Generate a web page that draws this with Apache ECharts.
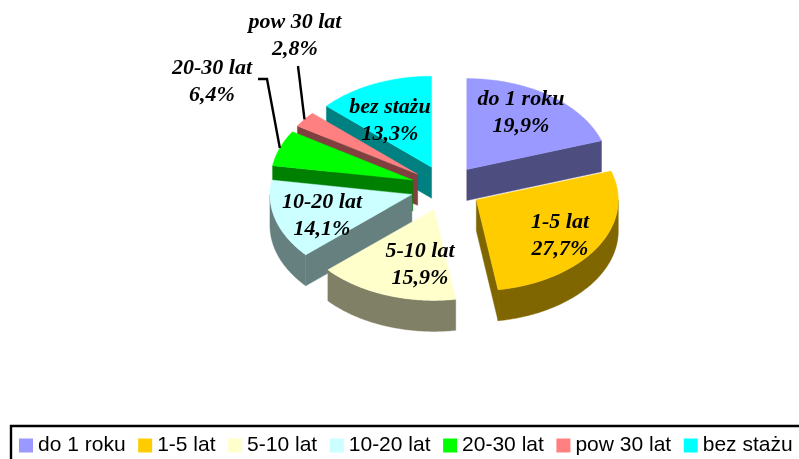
<!DOCTYPE html>
<html><head><meta charset="utf-8">
<style>html,body{margin:0;padding:0;background:#fff}#c{width:799px;height:459px}</style>
<script src="https://cdn.jsdelivr.net/npm/echarts@6/dist/echarts.min.js"></script>
</head><body><div id="c"></div>
<script>
const categories = ['do 1 roku','1-5 lat','5-10 lat','10-20 lat','20-30 lat','pow 30 lat','bez stażu'];
const values = [19.9,27.7,15.9,14.1,6.4,2.8,13.3];
const topColors = ['#9999FF','#FFCC00','#FFFFCC','#CCFFFF','#00FF00','#FF8080','#00FFFF'];
const sideColors = ['#4D4D80','#806600','#808066','#668080','#008000','#804040','#008080'];
const drawOrder = [6,5,4,3,2,0,1];
const labelCenters = [[521,113],[560,236],[420,264.5],[322,216],[212,81.5],[295,36],[390,120.5]];
const leaderStarts = {4:[[258,79],[267,79]],5:[[298,66]]};

const CX=446, CY=188, RX=142, RY=91, DEPTH=31, EXPLODE=0.25;
const RAD=Math.PI/180;
const total=values.reduce((a,b)=>a+b,0);
const bounds=[];
values.reduce((acc,v)=>{const e=acc+v/total*360;bounds.push([acc,e]);return e;},0);
function apex(i){
  const m=(bounds[i][0]+bounds[i][1])/2*RAD;
  return [CX+EXPLODE*RX*Math.sin(m),CY-EXPLODE*RY*Math.cos(m)];
}
function rim(c,deg,dy){
  return [c[0]+RX*Math.sin(deg*RAD),c[1]-RY*Math.cos(deg*RAD)+(dy||0)];
}
function arc(c,from,to,dy){
  const pts=[],n=Math.max(2,Math.ceil(Math.abs(to-from)));
  for(let k=0;k<=n;k++)pts.push(rim(c,from+(to-from)*k/n,dy));
  return pts;
}
function poly(points,color){
  return {type:'polygon',shape:{points},style:{fill:color,stroke:color,lineWidth:0.4},silent:true};
}
function renderSlice(i){
  const c=apex(i),[s,e]=bounds[i],kids=[];
  const bottom=[c[0],c[1]+DEPTH];
  const wall=d=>{const r=rim(c,d);return poly([c,r,[r[0],r[1]+DEPTH],bottom],sideColors[i]);};
  if(Math.sin(s*RAD)<-1e-6)kids.push(wall(s));
  if(Math.sin(e*RAD)>1e-6)kids.push(wall(e));
  const a=Math.max(s,90),b=Math.min(e,270);
  if(b>a)kids.push(poly(arc(c,a,b,0).concat(arc(c,b,a,DEPTH)),sideColors[i]));
  kids.push(poly([c].concat(arc(c,s,e,0)),topColors[i]));
  return {type:'group',children:kids};
}
function renderLabels(){
  const kids=[];
  Object.keys(leaderStarts).forEach(k=>{
    const i=+k,c=apex(i),end=rim(c,(bounds[i][0]+bounds[i][1])/2);
    kids.push({type:'polyline',shape:{points:leaderStarts[k].concat([end])},
      style:{stroke:'#000',lineWidth:2.4,fill:null},silent:true});
  });
  categories.forEach((name,i)=>{
    kids.push({type:'text',silent:true,style:{
      x:labelCenters[i][0],y:labelCenters[i][1],
      text:name+'\n'+values[i].toFixed(1).replace('.',',')+'%',
      align:'center',verticalAlign:'middle',lineHeight:27,
      font:'italic bold 22px "Liberation Serif"',fill:'#000'}});
  });
  return {type:'group',children:kids};
}
const series=categories.map((name,i)=>({
  type:'custom',name,coordinateSystem:'none',silent:true,
  z:2+drawOrder.indexOf(i),
  itemStyle:{color:topColors[i]},
  data:[[values[i]]],
  renderItem:()=>renderSlice(i)
}));
series.push({type:'custom',name:'labels',coordinateSystem:'none',silent:true,z:20,
  data:[[0]],renderItem:renderLabels});
const chart=echarts.init(document.getElementById('c'),null,{renderer:'canvas'});
chart.setOption({
  animation:false,
  backgroundColor:'#fff',
  graphic:[{type:'rect',shape:{x:11,y:426,width:900,height:100},
    style:{fill:'#fff',stroke:'#000',lineWidth:2.4},silent:true,z:1}],
  legend:{
    data:categories,left:19,top:435,padding:0,width:785,itemWidth:14,itemHeight:14,itemGap:12.6,
    icon:'rect',selectedMode:false,
    textStyle:{fontFamily:'"Liberation Sans"',fontSize:21,color:'#000'}
  },
  series
});
</script></body></html>
